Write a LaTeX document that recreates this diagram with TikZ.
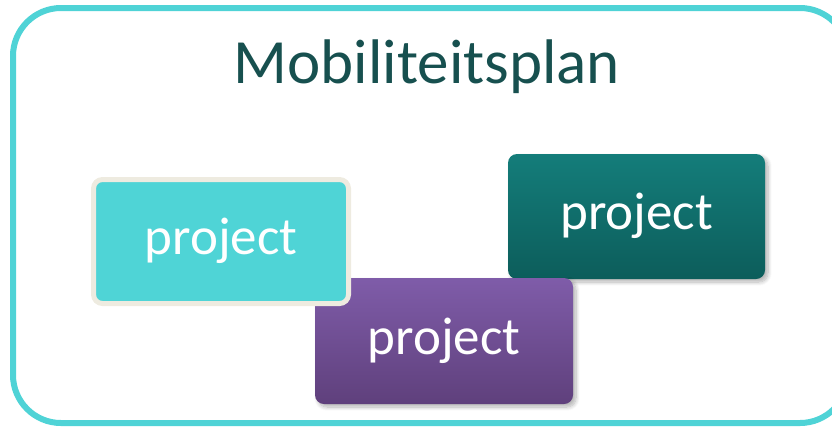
\documentclass[tikz,border=0pt]{standalone}
\usepackage{fontspec}
\setmainfont{Carlito}
\usetikzlibrary{shadows.blur}
\definecolor{frame}{HTML}{4FD3D6}
\definecolor{cyanfill}{HTML}{4FD4D6}
\definecolor{cream}{HTML}{EEEBE0}
\definecolor{titlecol}{HTML}{17504F}
\definecolor{purtop}{HTML}{7F5CA9}
\definecolor{purbot}{HTML}{5F407C}
\definecolor{tealtop}{HTML}{147D7A}
\definecolor{tealbot}{HTML}{0C5D5B}
\tikzset{
  projbox/.style={rounded corners=9pt, inner sep=0pt},
  projtext/.style={font=\fontsize{53}{60}\selectfont, text=white, anchor=base, inner sep=0pt},
  shadowed/.style={blur shadow={shadow xshift=3pt, shadow yshift=-3pt, shadow blur steps=8, shadow blur radius=4pt, shadow opacity=30}}
}
\begin{document}
\begin{tikzpicture}[x=1pt,y=-1pt]
\useasboundingbox (0,0) rectangle (832,429);
\clip (0,0) rectangle (832,429);
\draw[frame, line width=6pt, rounded corners=48pt] (13,8) rectangle (848,423);
\node[font=\fontsize{63}{70}\selectfont, text=titlecol, anchor=base, inner sep=0pt] (title) at (427,83) {Mobiliteitsplan};
% teal box
\node[projbox, shadowed, minimum width=257pt, minimum height=125pt, top color=tealtop, bottom color=tealbot] (teal) at (636.5,216.5) {};
\node[projtext] (tealtext) at (teal.center) [yshift=-13pt] {project};
% purple box
\node[projbox, shadowed, minimum width=258pt, minimum height=126pt, top color=purtop, bottom color=purbot] (purple) at (444,341) {};
\node[projtext] (purpletext) at (purple.center) [yshift=-13pt] {project};
% cyan box
\node[projbox, draw=cream, line width=5pt, fill=cyanfill, minimum width=255pt, minimum height=124pt] (cyanb) at (221,241.5) {};
\node[projtext] (cyantext) at (cyanb.center) [yshift=-13pt] {project};
\end{tikzpicture}
\end{document}
